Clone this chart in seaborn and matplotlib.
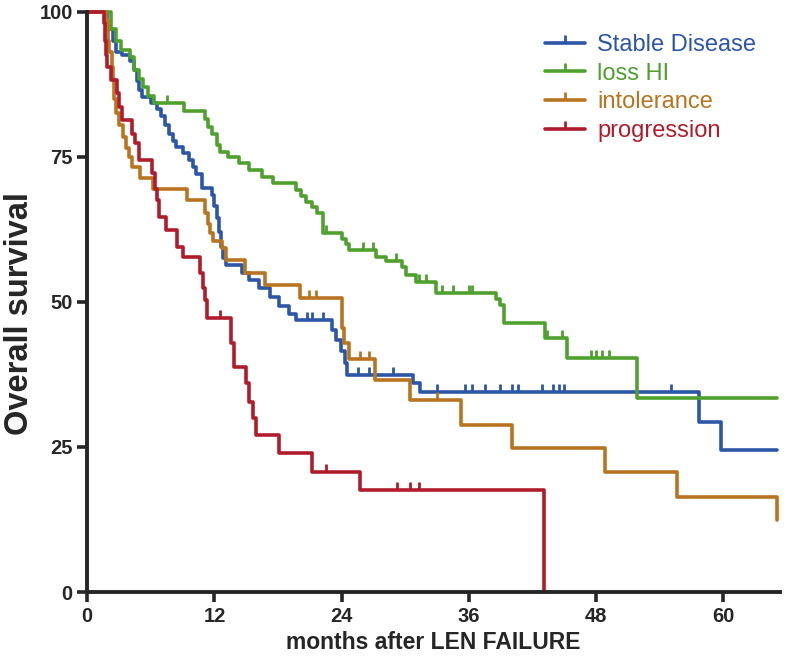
import pandas as pd
import matplotlib.pyplot as plt
import seaborn as sns
from matplotlib.lines import Line2D

# Kaplan-Meier steps: survival (%) valid from each time point onward (months)
sd_t = [0, 1.9, 2.4, 2.7, 3.3, 4.0, 4.4, 4.7, 4.9, 5.2, 6.0, 6.6, 7.0, 7.3, 7.7, 8.1, 8.4, 9.0, 9.6,
        10.0, 10.3, 10.8, 11.8, 12.0, 12.2, 12.4, 12.6, 12.8, 13.1, 14.6, 15.3, 16.2, 17.2, 18.1, 19.0,
        19.7, 23.1, 23.5, 23.9, 24.3, 24.5, 30.7, 31.4, 57.7, 59.8, 65.1]
sd_s = [100, 97, 95, 93, 92.5, 91.5, 90, 88, 86.5, 85.3, 84.3, 83.2, 82, 80.5, 79, 77.8, 76.7, 75.6, 74.5,
        73.3, 72, 69.6, 68.5, 66.5, 64.5, 62, 59.5, 57.5, 56.4, 55, 53.8, 52.4, 50.9, 49.3, 48,
        46.9, 45.2, 43.4, 41.5, 39.5, 37.4, 36, 34.5, 29.3, 24.5, 24.5]
sd_cens = [20.7, 21.2, 22.2, 25.5, 26.6, 28.8, 33.0, 35.6, 36.3, 37.5, 38.9, 40.1, 40.6, 42.9, 43.9,
           44.5, 45.0, 55.1]

hi_t = [0, 2.2, 2.7, 3.2, 4.0, 4.4, 4.9, 5.3, 5.7, 6.3, 9.1, 11.1, 11.4, 11.8, 12.2, 12.5, 13.3, 14.3,
        15.3, 16.5, 17.5, 19.7, 20.2, 20.6, 21.2, 21.7, 22.2, 24.0, 24.4, 24.7, 27.2, 28.2, 29.7, 30.1,
        31.0, 32.9, 38.6, 38.9, 39.3, 43.2, 45.3, 51.9, 65.1]
hi_s = [100, 97, 95, 93.4, 92.2, 90, 88.5, 87, 85.5, 84.3, 82.9, 81.5, 80.2, 79, 77, 75.8, 75, 74,
        72.8, 71.6, 70.5, 69.3, 68.3, 67.3, 66.3, 65.3, 61.9, 60.8, 60, 59, 57.8, 57, 56, 54.7,
        53.4, 51.6, 50.5, 49.5, 46.4, 43.8, 40.3, 33.4, 33.4]
hi_cens = [7.5, 22.5, 26.0, 27.0, 29.1, 31.3, 32.0, 33.5, 34.5, 36.0, 36.3, 43.4, 44.8, 47.5, 48.0,
           48.6, 49.2]

int_t = [0, 1.8, 2.0, 2.1, 2.3, 2.4, 2.5, 2.7, 3.0, 3.4, 3.7, 3.9, 4.2, 5.0, 6.2, 9.4, 11.1, 11.4, 11.6,
         11.9, 12.7, 13.1, 14.9, 16.8, 20.1, 24.0, 24.2, 24.7, 27.1, 30.4, 35.3, 40.1, 48.8, 55.6,
         65.1, 65.1]
int_s = [100, 98.6, 95, 93, 90.5, 88.5, 85, 82.5, 80.5, 78.4, 76.5, 75, 73.2, 71.4, 69.4, 67.6, 65.3,
         63.5, 61.8, 60.5, 59.3, 57.2, 55, 52.9, 50.6, 45.5, 42.9, 40.2, 36.6, 33.1, 28.8, 24.8, 20.7,
         16.4, 16.4, 12.4]
int_cens = [20.9, 21.6, 25.7, 26.6, 33.0]

pr_t = [0, 1.6, 1.7, 1.8, 1.9, 2.2, 2.8, 3.0, 3.3, 4.2, 4.5, 4.9, 6.1, 6.4, 6.6, 6.8, 7.4, 8.5, 9.0,
        10.6, 10.9, 11.1, 11.3, 13.6, 13.8, 15.0, 15.3, 15.6, 15.9, 18.1, 21.2, 25.7, 43.1, 43.1]
pr_s = [100, 98, 95, 92.5, 90.5, 88.3, 86, 83.6, 81.4, 79, 77.4, 74.5, 72.2, 69.5, 67.6, 64.7, 62.4,
        59.5, 57.8, 55, 52.4, 50.3, 47.2, 43.0, 38.8, 36, 32.8, 30, 27.1, 24, 20.7, 17.5, 17.5, 0]
pr_cens = [12.5, 22.5, 29.2, 30.4, 31.3]

groups = ['Stable Disease', 'loss HI', 'intolerance', 'progression']
colors = ['#2C56A6', '#4FA12E', '#B87420', '#B01C2C']
times = [sd_t, hi_t, int_t, pr_t]
surv = [sd_s, hi_s, int_s, pr_s]
cens = [sd_cens, hi_cens, int_cens, pr_cens]

frames = []
for g, t, s in zip(groups, times, surv):
    frames.append(pd.DataFrame({'months': t, 'survival': s, 'group': g}))
df = pd.concat(frames, ignore_index=True)

sns.set_style('ticks')
plt.rcParams['font.family'] = ['Liberation Sans', 'DejaVu Sans']

fig = plt.figure(figsize=(7.93, 6.6), dpi=100)
ax = fig.add_axes([0.11, 0.103, 0.873, 0.879])

sns.lineplot(data=df, x='months', y='survival', hue='group', hue_order=groups,
             palette=dict(zip(groups, colors)), estimator=None, sort=False,
             drawstyle='steps-post', linewidth=2.6, legend=False, ax=ax, clip_on=False)


def surv_at(t_list, s_list, x):
    val = s_list[0]
    for tt, ss in zip(t_list, s_list):
        if tt <= x:
            val = ss
    return val


# censor marks
for t, s, c, col in zip(times, surv, cens, colors):
    ys = [surv_at(t, s, x) for x in c]
    ax.plot(c, ys, linestyle='none', marker=2, markersize=6, markeredgewidth=2, color=col)

ax.set_xlim(0, 65.3)
ax.set_ylim(0, 100)
ax.set_xticks([0, 12, 24, 36, 48, 60])
ax.set_yticks([0, 25, 50, 75, 100])
sns.despine(ax=ax)
for sp in ['left', 'bottom']:
    ax.spines[sp].set_linewidth(2.8)
ax.tick_params(width=2.6, length=7, labelsize=14.5)
for lab in ax.get_xticklabels() + ax.get_yticklabels():
    lab.set_fontweight('bold')

ax.set_xlabel('months after LEN FAILURE', fontsize=16.5, fontweight='bold', labelpad=4)
ax.set_ylabel('Overall survival', fontsize=23.5, fontweight='bold', labelpad=0)
ax.yaxis.set_label_coords(-0.076, 0.48)

handles = [Line2D([0], [0], color=col, lw=2.6, marker=2, markersize=6, markeredgewidth=2)
           for col in colors]
leg = ax.legend(handles, groups, loc='upper left', bbox_to_anchor=(0.648, 0.978), frameon=False,
                fontsize=17, handlelength=1.7, handletextpad=0.5, labelspacing=0.28, numpoints=1,
                borderaxespad=0)
for txt, col in zip(leg.get_texts(), colors):
    txt.set_color(col)

plt.savefig('out.png', dpi=100)
